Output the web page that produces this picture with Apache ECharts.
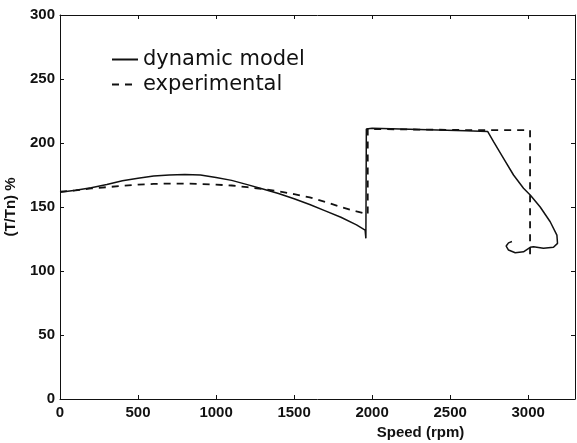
<!DOCTYPE html>
<html>
<head>
<meta charset="utf-8">
<script src="https://cdn.jsdelivr.net/npm/echarts@6/dist/echarts.min.js"></script>
<style>html,body{margin:0;padding:0;background:#fff}#c{width:577px;height:443px}</style>
</head>
<body>
<div id="c"></div>
<script>
// ---- data ----
var seriesNames = ['dynamic model', 'experimental'];
var modelSpeed  = [0, 100, 200, 300, 400, 500, 600, 700, 800, 900, 1000, 1100, 1200, 1300, 1400, 1500, 1600, 1700, 1800, 1900, 1955, 1960, 1963, 2000, 2300, 2600, 2740, 2778, 2842, 2906, 2970, 3013, 3077, 3141, 3184, 3188, 3162, 3098, 3034, 3013, 2970, 2917, 2874, 2859, 2874, 2896];
var modelTorque = [161.5, 163, 165, 167.5, 170.5, 172.5, 174.3, 175, 175.3, 175, 173, 170.8, 167.5, 164, 160.5, 156.5, 152, 147, 142, 136, 132, 125.5, 211, 211.5, 210.5, 209.5, 209, 201, 188, 175, 164.6, 159.4, 150, 138.5, 128, 121.6, 118.5, 117.7, 119, 118.5, 115, 114.3, 116.4, 119.5, 122, 123];
var expSpeed    = [0, 100, 200, 300, 400, 500, 600, 700, 800, 900, 1000, 1100, 1200, 1300, 1400, 1500, 1600, 1700, 1800, 1900, 1972, 1972, 2300, 2700, 3012, 3012];
var expTorque   = [162, 163, 164.5, 165.5, 166.5, 167.5, 168, 168.3, 168.3, 168, 167.5, 166.8, 165.5, 164, 162.3, 160, 157.5, 154, 150, 146.5, 144.5, 211, 210.5, 210, 210, 113];
var xTicks = [0, 500, 1000, 1500, 2000, 2500, 3000];
var yTicks = [0, 50, 100, 150, 200, 250, 300];
var xName = 'Speed (rpm)';
var yName = '(T/Tn) %';

function pairs(xs, ys) { return xs.map(function (x, i) { return [x, ys[i]]; }); }

var ink = '#111';
function tickLabel(extra) {
  var o = {fontFamily: 'Liberation Sans', fontWeight: 'bold', fontSize: 15, color: ink};
  for (var k in extra) o[k] = extra[k];
  return o;
}
var axLine = {show: true, onZero: false, lineStyle: {color: ink, width: 1}};
var axTick = {show: true, inside: true, length: 4, lineStyle: {color: ink}};

var chart = echarts.init(document.getElementById('c'), null, {renderer: 'canvas'});
chart.setOption({
  backgroundColor: '#fff',
  animation: false,
  grid: {left: 60, right: 2, top: 15, bottom: 44, outerBoundsMode: 'none'},
  legend: {
    orient: 'vertical', left: 106, top: 44,
    itemWidth: 26, itemHeight: 12, itemGap: 4,
    itemStyle: {opacity: 0},
    textStyle: {fontFamily: 'DejaVu Sans', fontSize: 21, lineHeight: 21, color: ink},
    data: seriesNames
  },
  xAxis: [{
    type: 'value', min: xTicks[0], max: 3300, interval: 500,
    name: xName, nameLocation: 'middle', nameGap: 24,
    nameTextStyle: {fontFamily: 'Liberation Sans', fontWeight: 'bold', fontSize: 15, color: ink, padding: [0, 0, 0, 206]},
    axisLine: axLine, axisTick: axTick,
    axisLabel: tickLabel({margin: 6, formatter: function (v) { return xTicks.indexOf(v) >= 0 ? String(v) : ''; }}),
    splitLine: {show: false}
  }, {
    type: 'value', position: 'top', min: xTicks[0], max: 3300, interval: 500,
    axisLine: axLine, axisTick: axTick,
    axisLabel: {show: false}, splitLine: {show: false}
  }],
  yAxis: [{
    type: 'value', min: yTicks[0], max: yTicks[yTicks.length - 1], interval: 50,
    name: yName, nameLocation: 'middle', nameGap: 42, nameRotate: 90,
    nameTextStyle: {fontFamily: 'Liberation Sans', fontWeight: 'bold', fontSize: 15, color: ink},
    axisLine: axLine, axisTick: axTick,
    axisLabel: tickLabel({margin: 5}),
    splitLine: {show: false}
  }, {
    type: 'value', position: 'right', min: yTicks[0], max: yTicks[yTicks.length - 1], interval: 50,
    axisLine: axLine, axisTick: axTick,
    axisLabel: {show: false}, splitLine: {show: false}
  }],
  series: [{
    name: seriesNames[0], type: 'line', symbol: 'none', smooth: false,
    data: pairs(modelSpeed, modelTorque),
    lineStyle: {color: ink, width: 1.5}, itemStyle: {color: ink}
  }, {
    name: seriesNames[1], type: 'line', symbol: 'none', smooth: false,
    data: pairs(expSpeed, expTorque),
    lineStyle: {color: ink, width: 1.8, type: [7, 6]}, itemStyle: {color: ink}
  }]
});
</script>
</body>
</html>
